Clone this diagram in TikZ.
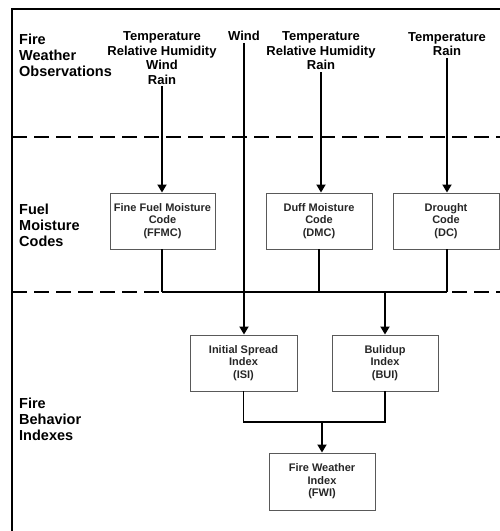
\documentclass[tikz,border=0pt]{standalone}
\usepackage{fontspec}
\setmainfont{Liberation Sans}
\usetikzlibrary{arrows.meta,calc}
\begin{document}
\begin{tikzpicture}[x=1pt,y=-1pt,
 obs/.style={font=\fontsize{13}{14.5}\selectfont\bfseries, align=center, inner sep=2pt},
 sect/.style={font=\fontsize{14.5}{16}\selectfont\bfseries, align=left, anchor=west, inner sep=0pt},
 box/.style={draw=black!65, text=black!85, line width=0.9pt, minimum width=106pt, minimum height=56pt, align=center, font=\fontsize{11}{12.5}\selectfont\bfseries, inner sep=0pt},
 conn/.style={line width=1.8pt},
 arr/.style={conn, -{Triangle[width=9pt,length=8pt]}},
 sepline/.style={line width=1.8pt, dash pattern=on 15pt off 7pt},
 frame/.style={line width=1.2pt}
]
\useasboundingbox (0,0) rectangle (500,531);
% frame and section separators
\draw[frame] (12,531) -- (12,9) -- (500,9);
\draw[sepline] (12,137) -- (500,137);
\draw[sepline] (12,292) -- (500,292);
% section labels
\node[sect] (s1) at (19,55) {Fire\\Weather\\Observations};
\node[sect] (s2) at (19,225) {Fuel\\Moisture\\Codes};
\node[sect] (s3) at (19,419.5) {Fire\\Behavior\\Indexes};
% observations
\node[obs] (t1) at (162,58) {Temperature\\Relative Humidity\\Wind\\Rain};
\node[obs] (w) at (244,36) {Wind};
\node[obs] (t2) at (321,51) {Temperature\\Relative Humidity\\Rain};
\node[obs] (t3) at (447,44) {Temperature\\Rain};
% boxes
\node[box, minimum width=105pt] (ffmc) at (162.5,221) {Fine Fuel Moisture\\Code\\(FFMC)};
\node[box] (dmc) at (319,221) {Duff Moisture\\Code\\(DMC)};
\node[box] (dc) at (446,221) {Drought\\Code\\(DC)};
\node[box, minimum width=107pt] (isi) at (243.5,363) {Initial Spread\\Index\\(ISI)};
\node[box] (bui) at (385,363) {Bulidup\\Index\\(BUI)};
\node[box, minimum height=57pt] (fwi) at (322,481.5) {Fire Weather\\Index\\(FWI)};
% connectors
\draw[arr] (t1.south) -- (t1.south |- ffmc.north);
\draw[arr] (w.south) -- (w.south |- isi.north);
\draw[arr] (t2.south) -- (t2.south |- dmc.north);
\draw[arr] (t3.south) -- (t3.south |- dc.north);
\coordinate (b1) at (162,292);
\coordinate (b3) at (447,292);
\coordinate (bus) at (385,292);
\draw[conn] (ffmc.south -| b1) -- (b1);
\draw[conn] (dmc.south) -- (dmc.south |- bus);
\draw[conn] (dc.south -| b3) -- (b3);
\draw[conn] (b1) -- (b3);
\draw[arr] (bus) -- (bui.north);
\coordinate (j) at (322,422);
\draw[conn] (isi.south) -- (isi.south |- j) -- (bui.south |- j) -- (bui.south);
\draw[arr] (j) -- (fwi.north);
\end{tikzpicture}
\end{document}
